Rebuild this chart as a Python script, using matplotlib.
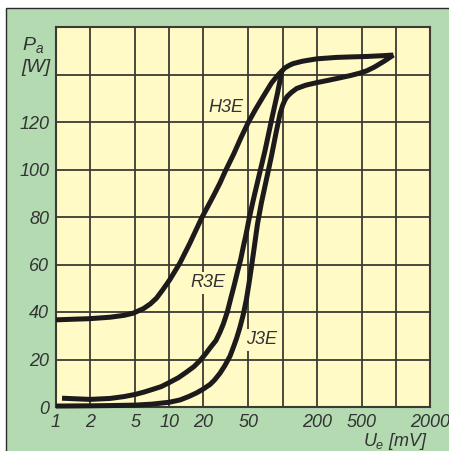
import numpy as np
import matplotlib
matplotlib.use("Agg")
import matplotlib.pyplot as plt
from matplotlib.patches import Rectangle

# output power P_a versus input voltage U_e for three modes

plt.rcParams['font.family'] = ['Liberation Sans', 'DejaVu Sans']
plt.rcParams['mathtext.fontset'] = 'custom'
plt.rcParams['mathtext.rm'] = 'Liberation Sans'
plt.rcParams['mathtext.it'] = 'Liberation Sans:italic'

h3e_u = [1, 2, 3, 4, 4.8, 5.9, 6.8, 7.7, 8.8, 10.1, 12.4, 15.2, 19.3, 24.4, 28, 31, 37, 43, 50,
         58, 67, 80, 90, 98.6, 105, 115, 124, 150, 201, 300, 400, 556, 750, 950]
h3e_p = [36.7, 37.2, 37.8, 38.6, 39.5, 41.4, 43.4, 45.8, 49.5, 53.6, 60.6, 69, 79.6, 88.7, 94.3,
         99, 106.5, 113.5, 120, 125.5, 130.5, 136.5, 139.5, 141.5, 142.8, 143.9, 144.6, 145.6,
         146.6, 147.2, 147.4, 147.6, 147.9, 148.2]

r3e_u = [1.13, 2, 3, 4, 5, 6, 7, 8.5, 10, 12, 14, 16.5, 18.7, 21, 23, 25.8, 28, 30, 32.5, 35,
         37.5, 40, 42.6, 45, 47.5, 50.5, 55, 62, 70, 80, 90, 98.6]
r3e_p = [3.7, 3.2, 3.6, 4.4, 5.3, 6.3, 7.3, 8.6, 10.3, 12.3, 14.5, 17, 19.6, 22.5, 25, 28, 31.5, 35,
         40, 46, 51.5, 57, 62, 67.5, 72.5, 79, 87, 97.5, 108, 121, 132, 141.5]

j3e_u = [1, 2, 3, 5, 7, 10, 12.5, 15, 17.5, 20, 22.9, 25, 28, 31, 34.4, 37, 39.3, 42, 45, 48,
         50.5, 53.5, 56.5, 60, 65, 72.9, 80, 88, 95, 100, 105, 110, 120, 133, 160, 201, 250, 300,
         400, 482, 556, 650, 800, 950]
j3e_p = [0.4, 0.5, 0.6, 0.8, 1.2, 2.0, 3.0, 4.5, 6.0, 7.6, 9.5, 11.3, 14.2, 17.5, 21.5, 25.5, 29,
         33.5, 39, 45.5, 52, 60, 68, 77, 86, 97, 106, 116, 123.5, 127, 129.3, 130.8, 132.5, 134.1,
         135.5, 136.6, 137.5, 138.3, 139.6, 140.6, 141.6, 143.2, 145.8, 148.2]

x_ticks = [1, 2, 5, 10, 20, 50, 100, 200, 500, 1000, 2000]
x_labels = ['1', '2', '5', '10', '20', '50', '', '200', '500', '', '2000']
y_ticks = [0, 20, 40, 60, 80, 100, 120, 140]
y_labels = ['0', '20', '40', '60', '80', '100', '120', '']

green = '#b3dab1'
yellow = '#fffac6'
ink = '#333333'

fig = plt.figure(figsize=(4.49, 4.51), dpi=100)
fig.patch.set_facecolor('white')
fig.patches.append(Rectangle((6 / 449, -0.1), 1.2, 1 - 8 / 451 + 0.1, transform=fig.transFigure,
                             facecolor=green, edgecolor='#2a2a2a', lw=1.0, zorder=-10))

ax = fig.add_axes([56 / 449, 44 / 451, 374 / 449, 380 / 451])
ax.set_facecolor(yellow)
ax.set_xscale('log')
ax.set_xlim(1, 2000)
ax.set_ylim(0, 160)

ax.set_xticks(x_ticks)
ax.set_xticklabels(x_labels)
ax.set_xticks([], minor=True)
ax.set_yticks(y_ticks)
ax.set_yticklabels(y_labels)
ax.tick_params(length=0, labelsize=13, labelcolor=ink)
ax.tick_params(axis='x', pad=5)
ax.tick_params(axis='y', pad=5)
for lab in ax.get_xticklabels() + ax.get_yticklabels():
    lab.set_fontstyle('italic')

ax.grid(True, color='#3c3b33', lw=1.3)
ax.set_axisbelow(True)
for s in ax.spines.values():
    s.set_color('#3c3b33')
    s.set_linewidth(1.5)

for u, p in [(h3e_u, h3e_p), (r3e_u, r3e_p), (j3e_u, j3e_p)]:
    ax.plot(u, p, color='#1c1a1a', lw=3.6, solid_capstyle='butt', solid_joinstyle='round',
            clip_on=False, zorder=5)

lab_kw = dict(fontsize=13, fontstyle='italic', color=ink, ha='center', va='center', zorder=4)
ax.text(31.6, 126, 'H3E', **lab_kw)
ax.text(22, 52.3, 'R3E', bbox=dict(facecolor=yellow, edgecolor='none', pad=2), **lab_kw)
ax.text(65.7, 28.3, 'J3E', bbox=dict(facecolor=yellow, edgecolor='none', pad=2), **lab_kw)

fig.text(22 / 449, 1 - 50 / 451, '$P_a$', fontsize=14, color=ink, ha='left', va='baseline')
fig.text(21 / 449, 1 - 72 / 451, '[W]', fontsize=14, fontstyle='italic', color=ink,
         ha='left', va='baseline')
fig.text(428 / 449, 1 - 446 / 451, '$U_e$ [mV]', fontsize=13, fontstyle='italic', color=ink,
         ha='right', va='baseline')

fig.savefig('out.png', dpi=100)
